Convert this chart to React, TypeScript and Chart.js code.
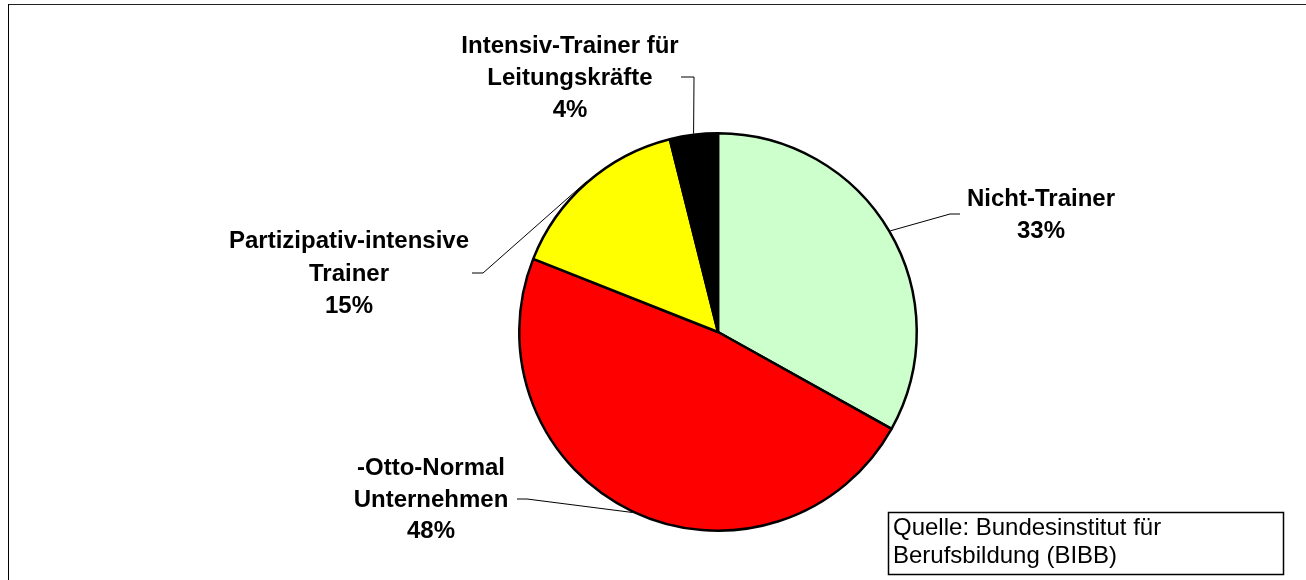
import React, { useEffect, useRef } from "react";
import { Chart, registerables } from "chart.js";

Chart.register(...registerables);

const categories = [
  "Nicht-Trainer",
  "-Otto-Normal Unternehmen",
  "Partizipativ-intensive Trainer",
  "Intensiv-Trainer für Leitungskräfte",
];
const labelLines = [
  ["Nicht-Trainer"],
  ["-Otto-Normal", "Unternehmen"],
  ["Partizipativ-intensive", "Trainer"],
  ["Intensiv-Trainer für", "Leitungskräfte"],
];
const shares = [33.1, 47.9, 15.1, 3.9];
const colors = ["#CCFFCC", "#FF0000", "#FFFF00", "#000000"];
const sourceLines = ["Quelle: Bundesinstitut für", "Berufsbildung (BIBB)"];

// label layout (text centre x, baselines, leader elbow points, optional clip)
const labelLayout = [
  { cx: 1041, baselines: [206, 238], elbow: [[950, 214], [960, 214]], clipRight: 0 },
  { cx: 431, baselines: [475, 507, 538], elbow: [[527, 499], [517, 499]], clipRight: 0 },
  { cx: 349, baselines: [248, 281, 313], elbow: [[483, 273], [472, 273]], clipRight: 470 },
  { cx: 570, baselines: [52.5, 85, 117], elbow: [[694, 77], [681, 77]], clipRight: 0 },
];

const FONT = '"Liberation Sans", Arial, sans-serif';

const overlayPlugin = {
  id: "overlay",
  afterDraw(chart: any) {
    const ctx = chart.ctx as CanvasRenderingContext2D;
    const meta = chart.getDatasetMeta(0);
    const total = shares.reduce((a, b) => a + b, 0);
    ctx.save();
    // outer frame (top + left)
    ctx.fillStyle = "#222";
    ctx.fillRect(8, 4, 1298, 1);
    ctx.fillStyle = "#000";
    ctx.fillRect(8, 4, 1, 576);

    meta.data.forEach((arc: any, i: number) => {
      const p = arc.getProps(["x", "y", "startAngle", "endAngle", "outerRadius"], true);
      const mid = (p.startAngle + p.endAngle) / 2;
      const r = p.outerRadius + 1;
      const ax = p.x + Math.cos(mid) * r;
      const ay = p.y + Math.sin(mid) * r;
      const lay = labelLayout[i];
      ctx.strokeStyle = "#000";
      ctx.lineWidth = 1;
      ctx.beginPath();
      ctx.moveTo(ax, ay);
      ctx.lineTo(lay.elbow[0][0], lay.elbow[0][1]);
      ctx.lineTo(lay.elbow[1][0], lay.elbow[1][1]);
      ctx.stroke();

      const lines = [...labelLines[i], Math.round((shares[i] / total) * 100) + "%"];
      ctx.save();
      if (lay.clipRight) {
        ctx.beginPath();
        ctx.rect(0, 0, lay.clipRight, 580);
        ctx.clip();
      }
      ctx.fillStyle = "#000";
      ctx.font = "bold 24px " + FONT;
      ctx.textAlign = "center";
      ctx.textBaseline = "alphabetic";
      lines.forEach((t, k) => ctx.fillText(t, lay.cx, lay.baselines[k]));
      ctx.restore();
    });

    // source box
    ctx.strokeStyle = "#000";
    ctx.lineWidth = 1.5;
    ctx.strokeRect(888.5, 512.5, 395, 62);
    ctx.fillStyle = "#000";
    ctx.font = "24px " + FONT;
    ctx.textAlign = "left";
    ctx.textBaseline = "alphabetic";
    ctx.fillText(sourceLines[0], 893, 535);
    ctx.fillText(sourceLines[1], 893, 563);
    ctx.restore();
  },
};

export default function App() {
  const ref = useRef<HTMLCanvasElement | null>(null);
  useEffect(() => {
    document.body.style.margin = "0";
    const canvas = ref.current!;
    const chart = new Chart(canvas, {
      type: "pie",
      data: {
        labels: categories,
        datasets: [
          {
            data: shares,
            backgroundColor: colors,
            borderColor: "#000",
            borderWidth: 2.5,
          },
        ],
      },
      options: {
        responsive: false,
        animation: false,
        layout: { padding: { left: 518, right: 388, top: 132, bottom: 48 } },
        plugins: {
          legend: { display: false },
          tooltip: { enabled: false },
        },
      },
      plugins: [overlayPlugin],
    });
    return () => chart.destroy();
  }, []);
  return (
    <div style={{ width: 1306, height: 580, background: "#fff" }}>
      <canvas ref={ref} width={1306} height={580} style={{ display: "block" }} />
    </div>
  );
}
